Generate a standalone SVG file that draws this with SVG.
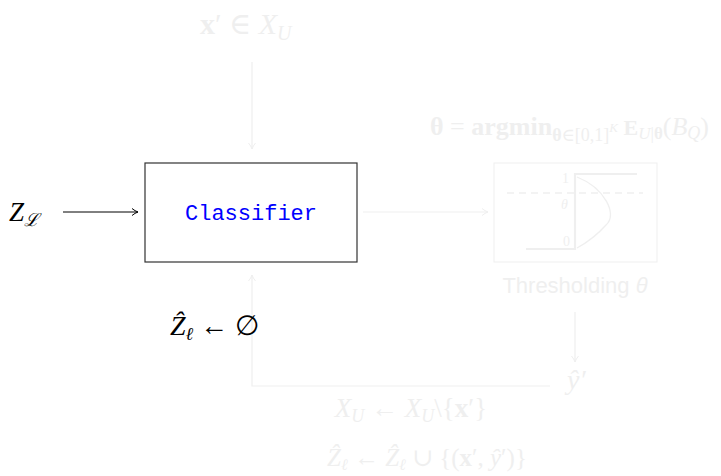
<svg xmlns="http://www.w3.org/2000/svg" width="721" height="476" viewBox="0 0 721 476">
<defs>
<style>
.m{font-family:"Liberation Serif","DejaVu Serif",serif;font-style:italic}
.r{font-family:"Liberation Serif","DejaVu Serif",serif;font-style:normal}
.b{font-family:"Liberation Serif","DejaVu Serif",serif;font-weight:bold;font-style:normal}
.faint{fill:#efefef}
.fl{stroke:#efefef;fill:none;stroke-width:1.2}
.dark{fill:#000}
</style>
<marker id="ahf" markerWidth="10" markerHeight="10" refX="8" refY="5" orient="auto" markerUnits="userSpaceOnUse">
<path d="M2,1.5 Q5,4 8,5 Q5,6 2,8.5" fill="none" stroke="#efefef" stroke-width="1"/>
</marker>
<marker id="ahk" markerWidth="10" markerHeight="10" refX="8" refY="5" orient="auto" markerUnits="userSpaceOnUse">
<path d="M2,1.5 Q5,4 8,5 Q5,6 2,8.5" fill="none" stroke="#000" stroke-width="1"/>
</marker>
</defs>
<rect width="721" height="476" fill="#fff"/>

<g id="connectors">
<line x1="63" y1="212" x2="138" y2="212" stroke="#000" stroke-width="1" marker-end="url(#ahk)"/>
<line x1="252" y1="62" x2="252" y2="149" class="fl" marker-end="url(#ahf)"/>
<line x1="363" y1="212" x2="488" y2="212" class="fl" marker-end="url(#ahf)"/>
<line x1="575" y1="312" x2="575" y2="362" class="fl" marker-end="url(#ahf)"/>
<polyline points="550,386 252,386 252,275" class="fl" marker-end="url(#ahf)"/>
</g>

<g id="input-x">
<text x="200" y="34" font-size="30" class="faint"><tspan class="b">x</tspan><tspan class="r">′ ∈ </tspan><tspan class="m">X</tspan><tspan class="m" font-size="20" dy="6">U</tspan></text>
</g>

<g id="Z_L">
<text x="9" y="221" font-size="27" class="dark"><tspan class="m">Z</tspan><tspan class="m" font-size="18" dy="5">ℒ</tspan></text>
</g>

<g id="classifier">
<rect x="145" y="163" width="212" height="99" fill="#fff" stroke="#333" stroke-width="1.2"/>
<text x="251" y="220" font-size="22" fill="#0000ff" text-anchor="middle" font-family="Liberation Mono, monospace">Classifier</text>
</g>

<g id="argmin">
<text x="430" y="135" font-size="26" class="faint"><tspan class="b" font-style="italic">θ</tspan><tspan class="r"> = </tspan><tspan class="b">argmin</tspan><tspan class="b" font-style="italic" font-size="18" dy="6">θ</tspan><tspan class="r" font-size="18">∈[0,1]</tspan><tspan class="m" font-size="13" dy="-9">K</tspan><tspan class="b" font-size="22" dy="3"> E</tspan><tspan class="m" font-size="17" dy="4">U</tspan><tspan class="r" font-size="17">|</tspan><tspan class="b" font-style="italic" font-size="17">θ</tspan><tspan class="r" dy="-4">(</tspan><tspan class="m">B</tspan><tspan class="m" font-size="18" dy="4">Q</tspan><tspan class="r" dy="-4">)</tspan></text>
</g>

<g id="thresholding">
<rect x="494" y="163" width="163" height="99" fill="none" stroke="#efefef" stroke-width="1"/>
<line x1="507" y1="193" x2="643" y2="193" stroke="#efefef" stroke-width="1.5" stroke-dasharray="7,5"/>
<polyline points="526,249 575,249 575,174 637,174" fill="none" stroke="#efefef" stroke-width="2.2"/>
<path d="M577,177 C605,188 618,215 606,225 C598,234 588,242 577,248" fill="none" stroke="#efefef" stroke-width="1.3"/>
<text x="562" y="183" font-size="14" class="r faint">1</text>
<text x="561" y="209" font-size="14" class="m faint">θ</text>
<text x="563" y="246" font-size="14" class="r faint">0</text>
<text x="575" y="293" font-size="22" text-anchor="middle" class="faint" font-family="Liberation Sans, sans-serif">Thresholding <tspan font-style="italic">θ</tspan></text>
</g>

<g id="y-hat">
<text x="567" y="389" font-size="28" class="m faint">ŷ′</text>
</g>

<g id="init">
<text x="170" y="335" font-size="28" class="dark"><tspan class="m">Ẑ</tspan><tspan class="m" font-size="18" dy="5">ℓ</tspan><tspan class="r" dy="-5"> ← ∅</tspan></text>
</g>

<g id="update-X">
<text x="411" y="417" font-size="27" text-anchor="middle" class="faint"><tspan class="m">X</tspan><tspan class="m" font-size="18" dy="5">U</tspan><tspan class="r" dy="-5"> ← </tspan><tspan class="m">X</tspan><tspan class="m" font-size="18" dy="5">U</tspan><tspan class="r" dy="-5">\{</tspan><tspan class="b">x</tspan><tspan class="r">′}</tspan></text>
</g>

<g id="update-Z">
<text x="427" y="466" font-size="25" text-anchor="middle" class="faint"><tspan class="m">Ẑ</tspan><tspan class="m" font-size="16" dy="4">ℓ</tspan><tspan class="r" dy="-4"> ← </tspan><tspan class="m">Ẑ</tspan><tspan class="m" font-size="16" dy="4">ℓ</tspan><tspan class="r" dy="-4"> ∪ {(</tspan><tspan class="b">x</tspan><tspan class="r">′, </tspan><tspan class="m">ŷ</tspan><tspan class="r">′)}</tspan></text>
</g>
</svg>
